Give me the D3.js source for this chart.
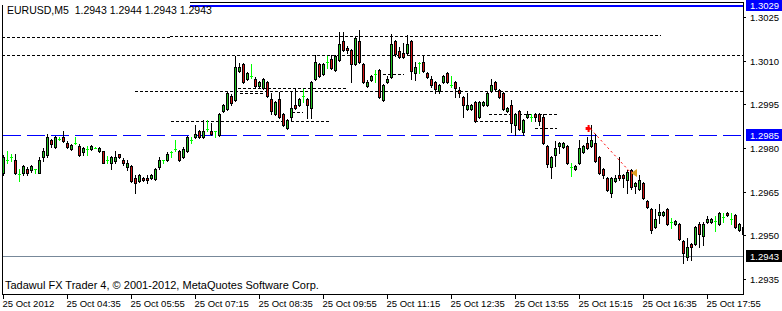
<!DOCTYPE html>
<html>
<head>
<meta charset="utf-8">
<script src="https://cdn.jsdelivr.net/npm/d3@7"></script>
<style>
  * { margin: 0; padding: 0; }
  body { background: #fff; overflow: hidden; }
  svg text { font-family: 'Liberation Sans', Arial, sans-serif; font-size: 9.5px; fill: #000; }
  svg text.title { font-size: 10.5px; }
  svg text.copyright { font-size: 11px; }
  .crisp { shape-rendering: crispEdges; }
</style>
</head>
<body>
<div id="chart"></div>
<script>
const titleText = "EURUSD,M5  1.2943 1.2944 1.2943 1.2943";
const copyrightText = "Tadawul FX Trader 4, \u00a9 2001-2012, MetaQuotes Software Corp.";

// M5 bars, 25 Oct 2012 from 03:15
const opens = [
  1.29714,1.29759,1.29769,1.29759,1.29711,1.29714,1.29728,1.29724,1.29728,1.29714,
  1.29769,1.29776,1.29828,1.29803,1.29831,1.29838,1.29817,1.29797,1.29817,1.29807,
  1.29786,1.29797,1.29797,1.29800,1.29790,1.29790,1.29759,1.29749,1.29755,1.29779,
  1.29759,1.29735,1.29738,1.29697,1.29687,1.29697,1.29697,1.29697,1.29694,1.29735,
  1.29759,1.29759,1.29786,1.29797,1.29790,1.29769,1.29790,1.29828,1.29838,1.29858,
  1.29838,1.29865,1.29858,1.29858,1.29845,1.29927,1.29934,1.29979,1.29965,1.30065,
  1.30089,1.30037,1.30047,1.30037,1.30013,1.30006,1.30027,1.29968,1.29917,1.29968,
  1.29917,1.29869,1.29906,1.29948,1.29948,1.29979,1.29968,1.29937,1.30037,1.30089,
  1.30054,1.30095,1.30106,1.30068,1.30102,1.30168,1.30144,1.30137,1.30089,1.30168,
  1.30089,1.30013,1.30034,1.30054,1.30068,1.29965,1.30027,1.30044,1.30168,1.30133,
  1.30126,1.30126,1.30168,1.30058,1.30092,1.30095,1.30058,1.30037,1.30027,1.29996,
  1.30027,1.30058,1.30016,1.30027,1.29999,1.29975,1.29934,1.29934,1.29958,1.29906,
  1.29948,1.29948,1.29996,1.30027,1.29999,1.29989,1.29927,1.29948,1.29879,1.29927,
  1.29855,1.29906,1.29906,1.29917,1.29917,1.29906,1.29807,1.29735,1.29776,1.29807,
  1.29803,1.29807,1.29735,1.29728,1.29749,1.29786,1.29817,1.29807,1.29817,1.29769,
  1.29728,1.29697,1.29646,1.29687,1.29707,1.29707,1.29690,1.29724,1.29670,1.29659,
  1.29680,1.29618,1.29591,1.29529,1.29570,1.29570,1.29591,1.29546,1.29539,1.29539,
  1.29481,1.29426,1.29470,1.29470,1.29539,1.29498,1.29546,1.29546,1.29549,1.29539,
  1.29563,1.29577,1.29556,1.29570,1.29518,1.29529
];
const highs = [
  1.29776,1.29790,1.29779,1.29779,1.29728,1.29742,1.29735,1.29742,1.29728,1.29769,
  1.29800,1.29848,1.29831,1.29841,1.29838,1.29858,1.29824,1.29814,1.29838,1.29814,
  1.29803,1.29807,1.29810,1.29803,1.29803,1.29790,1.29773,1.29773,1.29790,1.29779,
  1.29766,1.29759,1.29742,1.29707,1.29711,1.29700,1.29707,1.29711,1.29731,1.29769,
  1.29759,1.29786,1.29790,1.29828,1.29793,1.29803,1.29841,1.29838,1.29879,1.29862,
  1.29896,1.29896,1.29886,1.29858,1.29920,1.29951,1.29992,1.29986,1.30116,1.30092,
  1.30092,1.30061,1.30089,1.30044,1.30030,1.30040,1.30030,1.29989,1.29961,1.29992,
  1.29920,1.29900,1.29992,1.30006,1.29972,1.30003,1.29972,1.30030,1.30119,1.30092,
  1.30092,1.30116,1.30119,1.30119,1.30198,1.30198,1.30150,1.30140,1.30181,1.30205,
  1.30092,1.30034,1.30051,1.30068,1.30071,1.30020,1.30047,1.30192,1.30171,1.30147,
  1.30161,1.30188,1.30171,1.30095,1.30095,1.30116,1.30061,1.30047,1.30030,1.30020,
  1.30051,1.30061,1.30047,1.30030,1.30010,1.29979,1.29989,1.29951,1.29961,1.29961,
  1.29961,1.29992,1.30037,1.30030,1.30003,1.29992,1.29941,1.29965,1.29920,1.29931,
  1.29900,1.29927,1.29917,1.29920,1.29920,1.29917,1.29810,1.29773,1.29824,1.29821,
  1.29821,1.29810,1.29749,1.29742,1.29828,1.29810,1.29838,1.29879,1.29848,1.29773,
  1.29731,1.29700,1.29700,1.29707,1.29769,1.29711,1.29724,1.29728,1.29683,1.29707,
  1.29683,1.29621,1.29594,1.29591,1.29607,1.29584,1.29594,1.29560,1.29553,1.29542,
  1.29484,1.29491,1.29474,1.29532,1.29546,1.29546,1.29567,1.29560,1.29567,1.29580,
  1.29577,1.29580,1.29577,1.29573,1.29542,1.29532
];
const lows = [
  1.29707,1.29749,1.29755,1.29711,1.29687,1.29707,1.29707,1.29718,1.29714,1.29714,
  1.29755,1.29769,1.29803,1.29800,1.29828,1.29821,1.29800,1.29793,1.29814,1.29773,
  1.29776,1.29776,1.29793,1.29800,1.29786,1.29749,1.29749,1.29728,1.29749,1.29766,
  1.29742,1.29724,1.29683,1.29646,1.29683,1.29687,1.29680,1.29694,1.29690,1.29728,
  1.29749,1.29755,1.29769,1.29790,1.29755,1.29766,1.29786,1.29817,1.29834,1.29834,
  1.29834,1.29858,1.29845,1.29838,1.29841,1.29924,1.29931,1.29948,1.29961,1.30061,
  1.30023,1.30034,1.30040,1.30006,1.30010,1.30003,1.29975,1.29917,1.29913,1.29903,
  1.29876,1.29865,1.29896,1.29934,1.29944,1.29958,1.29903,1.29903,1.30034,1.30044,
  1.30051,1.30075,1.30071,1.30065,1.30099,1.30133,1.30126,1.30027,1.30085,1.30092,
  1.30023,1.30010,1.30030,1.30027,1.29972,1.29961,1.30023,1.30040,1.30116,1.30109,
  1.30109,1.30123,1.30037,1.30034,1.30058,1.30061,1.30040,1.30010,1.29989,1.29989,
  1.30023,1.30023,1.30010,1.29975,1.29975,1.29906,1.29931,1.29931,1.29889,1.29903,
  1.29944,1.29944,1.29992,1.29999,1.29972,1.29931,1.29924,1.29855,1.29845,1.29862,
  1.29845,1.29903,1.29893,1.29893,1.29879,1.29814,1.29735,1.29697,1.29738,1.29783,
  1.29800,1.29745,1.29704,1.29724,1.29745,1.29783,1.29797,1.29803,1.29752,1.29711,
  1.29697,1.29652,1.29632,1.29683,1.29690,1.29666,1.29646,1.29659,1.29646,1.29656,
  1.29625,1.29594,1.29508,1.29525,1.29542,1.29567,1.29535,1.29525,1.29535,1.29484,
  1.29405,1.29415,1.29415,1.29467,1.29460,1.29467,1.29542,1.29542,1.29515,1.29535,
  1.29546,1.29567,1.29539,1.29525,1.29515,1.29501
];
const closes = [
  1.29769,1.29759,1.29769,1.29714,1.29711,1.29738,1.29714,1.29738,1.29728,1.29759,
  1.29790,1.29838,1.29814,1.29838,1.29831,1.29824,1.29803,1.29810,1.29817,1.29776,
  1.29800,1.29797,1.29807,1.29800,1.29800,1.29749,1.29759,1.29769,1.29769,1.29769,
  1.29749,1.29749,1.29687,1.29680,1.29707,1.29690,1.29690,1.29707,1.29728,1.29759,
  1.29759,1.29779,1.29786,1.29797,1.29759,1.29797,1.29838,1.29828,1.29848,1.29838,
  1.29858,1.29865,1.29848,1.29858,1.29917,1.29948,1.29989,1.29955,1.30078,1.30078,
  1.30027,1.30058,1.30047,1.30013,1.30027,1.30037,1.29979,1.29927,1.29958,1.29906,
  1.29879,1.29896,1.29937,1.29937,1.29968,1.29979,1.29948,1.30027,1.30095,1.30047,
  1.30089,1.30095,1.30075,1.30116,1.30157,1.30137,1.30137,1.30089,1.30178,1.30095,
  1.30027,1.30027,1.30047,1.30054,1.29975,1.30016,1.30037,1.30157,1.30123,1.30113,
  1.30113,1.30157,1.30065,1.30078,1.30092,1.30065,1.30044,1.30016,1.30003,1.30016,
  1.30047,1.30027,1.30016,1.30006,1.29989,1.29948,1.29948,1.29948,1.29893,1.29958,
  1.29958,1.29989,1.30016,1.30003,1.29975,1.29934,1.29937,1.29886,1.29917,1.29865,
  1.29896,1.29917,1.29906,1.29906,1.29893,1.29817,1.29745,1.29769,1.29800,1.29817,
  1.29817,1.29749,1.29735,1.29738,1.29800,1.29807,1.29800,1.29828,1.29755,1.29714,
  1.29707,1.29656,1.29697,1.29697,1.29697,1.29697,1.29718,1.29666,1.29680,1.29690,
  1.29628,1.29597,1.29518,1.29556,1.29580,1.29580,1.29539,1.29546,1.29549,1.29487,
  1.29439,1.29460,1.29460,1.29529,1.29505,1.29539,1.29556,1.29556,1.29549,1.29577,
  1.29563,1.29570,1.29556,1.29529,1.29539,1.29505
];

const timeTickBars = [0, 16, 32, 48, 64, 80, 96, 112, 128, 144, 160, 176];
const timeTickLabels = ["25 Oct 2012", "25 Oct 04:35", "25 Oct 05:55", "25 Oct 07:15",
  "25 Oct 08:35", "25 Oct 09:55", "25 Oct 11:15", "25 Oct 12:35", "25 Oct 13:55",
  "25 Oct 15:15", "25 Oct 16:35", "25 Oct 17:55"];
const priceTicks = [1.2935, 1.2950, 1.2965, 1.2980, 1.2995, 1.3010, 1.3025];

// dotted level lines: price, first bar, last bar
const levelPrices = [1.30181, 1.30185, 1.30188, 1.30119, 1.29996, 1.29893, 1.30006,
  1.29989, 1.29924, 1.30054, 1.29917, 1.29869, 1.29893];
const levelFrom = [-0.25, 41.75, 124.25, -0.25, 33, 42, 58.75, 59.25, 72.25, 95, 121.5, 133, 118];
const levelTo = [41.75, 124.25, 164.5, 185, 185, 81.75, 86, 65, 75, 100.25, 138.5, 138.5, 126.25];

const topLinePrice = 1.3029;
const orderPrice = 1.29846;
const bidPrice = 1.2943;
const tradeBars = [146.4, 157];
const tradePrices = [1.29869, 1.29714];

const W = 782, H = 311;
const pL = 2, pR = 743, pT = 2, pB = 294;

const x = d3.scaleLinear().domain([0, 185]).range([3, 743]);
const y = d3.scaleLinear().domain([1.2935, 1.3025]).range([279, 17]);
const Y = p => Math.round(y(p));

const svg = d3.select("#chart").append("svg")
  .attr("width", W).attr("height", H);

svg.append("rect").attr("width", W).attr("height", H).attr("fill", "#fff");

svg.append("defs").append("clipPath").attr("id", "plot")
  .append("rect").attr("x", pL + 1).attr("y", pT + 1)
  .attr("width", pR - pL - 1).attr("height", pB - pT - 1);

const plot = svg.append("g").attr("clip-path", "url(#plot)");

// level lines
plot.selectAll("line.level")
  .data(levelPrices)
  .enter().append("line")
  .attr("class", "level crisp")
  .attr("x1", (d, i) => Math.round(x(levelFrom[i])))
  .attr("x2", (d, i) => Math.round(x(levelTo[i])))
  .attr("y1", d => Y(d) + 0.5)
  .attr("y2", d => Y(d) + 0.5)
  .attr("stroke", "#000")
  .attr("stroke-dasharray", "3,2");

// bid line
plot.append("line").attr("class", "crisp")
  .attr("x1", pL).attr("x2", pR)
  .attr("y1", Y(bidPrice) + 0.5).attr("y2", Y(bidPrice) + 0.5)
  .attr("stroke", "#778899");

// order level
plot.append("line").attr("class", "crisp")
  .attr("x1", 3).attr("x2", pR)
  .attr("y1", Y(orderPrice) + 0.5).attr("y2", Y(orderPrice) + 0.5)
  .attr("stroke", "#0000ff")
  .attr("stroke-dasharray", "18,6");

// horizontal line on top
svg.append("rect").attr("class", "crisp")
  .attr("x", pL).attr("y", Y(topLinePrice))
  .attr("width", pR - pL).attr("height", 2)
  .attr("fill", "#0000ff");

// candles
const bars = opens.map((o, i) => ({ i: i, o: o, h: highs[i], l: lows[i], c: closes[i] }));

plot.selectAll("g.bar")
  .data(bars)
  .enter().append("g")
  .attr("class", "bar crisp")
  .each(function(d) {
    const g = d3.select(this);
    const cx = Math.round(x(d.i));
    const yh = Y(d.h), yl = Y(d.l);
    if (d.o === d.c) {
      g.append("rect").attr("x", cx).attr("y", yh).attr("width", 1).attr("height", yl - yh + 1).attr("fill", "#00ff00");
      g.append("rect").attr("x", cx - 1).attr("y", Y(d.o)).attr("width", 3).attr("height", 1).attr("fill", "#00ff00");
      return;
    }
    const t = Y(Math.max(d.o, d.c)), b = Y(Math.min(d.o, d.c));
    g.append("rect").attr("x", cx).attr("y", yh).attr("width", 1).attr("height", yl - yh + 1).attr("fill", "#000");
    g.append("rect").attr("x", cx - 1).attr("y", t).attr("width", 3).attr("height", b - t + 1).attr("fill", "#000");
    if (b - t > 1) {
      g.append("rect").attr("x", cx).attr("y", t + 1).attr("width", 1).attr("height", b - t - 1)
        .attr("fill", d.c > d.o ? "#22c322" : "#d21414");
    }
  });

// trade: open arrow, dotted path, close arrow
const tx = tradeBars.map(b => x(b)), ty = tradePrices.map(p => Y(p));
plot.append("line")
  .attr("x1", tx[0] + 2).attr("y1", ty[0] + 1)
  .attr("x2", tx[1]).attr("y2", ty[1])
  .attr("stroke", "#ff0000").attr("stroke-dasharray", "2,3");
plot.append("path")
  .attr("d", `M${tx[0] - 3},${ty[0] - 1} h2 v-2 h2 v2 l2,1.5 l-2,1.5 v2 h-2 v-2 h-2 z`)
  .attr("fill", "#ff0000");
plot.append("path")
  .attr("d", `M${tx[1]},${ty[1]} l6,-4 v8 z`)
  .attr("fill", "#e0a020");

// frame
const frame = svg.append("g").attr("class", "crisp").attr("fill", "#000");
frame.append("rect").attr("x", pL).attr("y", 5).attr("width", 1).attr("height", pB - 5 + 1);
frame.append("rect").attr("x", 190).attr("y", pT).attr("width", pR - 190 + 1).attr("height", 1);
frame.append("rect").attr("x", pR).attr("y", pT).attr("width", 1).attr("height", pB - pT + 1);
frame.append("rect").attr("x", pL).attr("y", pB).attr("width", pR - pL + 1).attr("height", 1);

// title
svg.append("rect").attr("x", 0).attr("y", 0).attr("width", 190).attr("height", 5).attr("fill", "#fff");
svg.append("rect").attr("x", 3).attr("y", 0).attr("width", 187).attr("height", 16).attr("fill", "#fff");
svg.append("text").attr("class", "title").attr("x", 7).attr("y", 14)
  .attr("xml:space", "preserve").style("white-space", "pre")
  .text(titleText);

svg.append("text").attr("class", "copyright").attr("x", 5).attr("y", 289).text(copyrightText);

// price axis
const yAxis = svg.append("g")
  .attr("transform", `translate(${pR},0)`)
  .call(d3.axisRight(y).tickValues(priceTicks).tickSize(3).tickPadding(4).tickFormat(d3.format(".4f")));
yAxis.select(".domain").remove();
yAxis.selectAll("line").attr("stroke", "#000").attr("class", "crisp");
yAxis.selectAll("text").attr("font-family", null).attr("font-size", null).attr("dy", "0.36em");

// time axis
const xAxis = svg.append("g")
  .attr("transform", `translate(0,${pB + 1})`)
  .call(d3.axisBottom(x).tickValues(timeTickBars).tickSize(4)
    .tickFormat((d, i) => timeTickLabels[i]));
xAxis.select(".domain").remove();
xAxis.selectAll("line").attr("stroke", "#000").attr("class", "crisp");
xAxis.selectAll("text").attr("font-family", null).attr("font-size", null)
  .attr("text-anchor", "start").attr("x", -1).attr("y", 12).attr("dy", null);

// price tags
const tagPrices = [topLinePrice, orderPrice, bidPrice];
const tagColors = ["#0000ff", "#0000ff", "#000"];
const tags = svg.selectAll("g.tag")
  .data(tagPrices)
  .enter().append("g")
  .attr("class", "tag")
  .attr("transform", d => `translate(${pR + 3},${Y(d)})`);
tags.append("rect").attr("class", "crisp")
  .attr("x", 0).attr("y", -6).attr("width", W - pR - 3).attr("height", 12)
  .attr("fill", (d, i) => tagColors[i]);
tags.append("text")
  .attr("x", 4).attr("y", 4)
  .style("fill", "#fff")
  .text(d => d3.format(".4f")(d));
</script>
</body>
</html>
